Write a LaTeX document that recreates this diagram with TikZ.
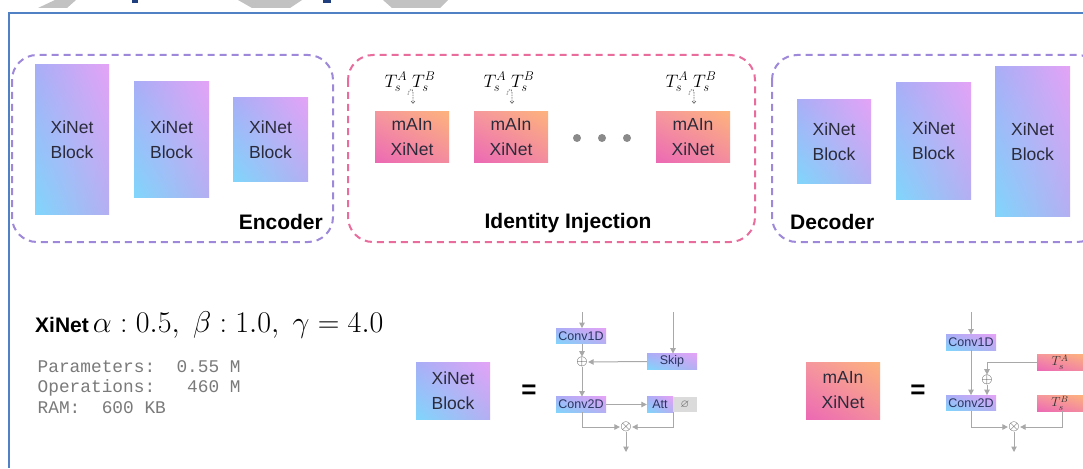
\RequirePackage{fix-cm}
\documentclass[tikz,border=0pt]{standalone}
\usepackage[no-math]{fontspec}
\setmainfont{Liberation Sans}
\setmonofont{Liberation Mono}
\usepackage{amssymb}
\usetikzlibrary{arrows.meta,calc,shadings}
\definecolor{bUL}{HTML}{A8AEF6}
\definecolor{bUR}{HTML}{E4A3F6}
\definecolor{bLL}{HTML}{80D6FC}
\definecolor{bLR}{HTML}{B4AEF2}
\definecolor{pUL}{HTML}{F5979E}
\definecolor{pUR}{HTML}{FDB27C}
\definecolor{pLL}{HTML}{EC69B4}
\definecolor{pLR}{HTML}{F38C9E}
\definecolor{txt}{HTML}{2B2B3B}
\definecolor{stxt}{HTML}{2A3560}
\definecolor{encC}{HTML}{9D88DA}
\definecolor{injC}{HTML}{E86C9C}
\definecolor{arrC}{HTML}{A8A8A8}
\definecolor{frameC}{HTML}{4F81C4}
\definecolor{hdrC}{HTML}{C2C2C2}
\definecolor{hdrB}{HTML}{1F3F7F}
\definecolor{monoC}{HTML}{7A7A7A}
\definecolor{dotC}{HTML}{8A8A8A}
\begin{document}
\begin{tikzpicture}[x=1pt,y=-1pt,
  xblock/.style={shade, upper left=bUL, upper right=bUR, lower left=bLL, lower right=bLR,
    inner sep=0, align=center, text=txt, font=\fontsize{17.5}{25}\selectfont},
  mblock/.style={shade, upper left=pUL, upper right=pUR, lower left=pLL, lower right=pLR,
    inner sep=0, align=center, text=txt, font=\fontsize{17.5}{25}\selectfont},
  sblock/.style={xblock, text=stxt, font=\fontsize{12.5}{12.5}\selectfont, minimum width=50, minimum height=15.5},
  smblock/.style={mblock, text=black!80, font=\fontsize{13}{13}\selectfont, minimum width=46, minimum height=16},
  grp/.style={line width=2, dash pattern=on 7pt off 5pt, rounded corners=25},
  flow/.style={draw=arrC, line width=1, -{Triangle[length=5.5pt,width=5.5pt]}},
  opnode/.style={inner sep=0.3, font=\fontsize{14.5}{14.5}\selectfont, text=black!80},
  hook/.style={draw=black!55, line width=0.8, dash pattern=on 1.5pt off 1pt, -{Straight Barb[length=2pt,width=3.5pt]}},
  grplabel/.style={font=\fontsize{21}{21}\selectfont\bfseries, inner sep=0},
  tlabel/.style={font=\fontsize{18}{18}\selectfont, inner sep=0},
  mono/.style={font=\fontsize{17.8}{20}\selectfont\ttfamily, text=monoC, inner sep=0, anchor=base west},
  eqsign/.style={font=\fontsize{26}{26}\selectfont\bfseries, inner sep=0}
]
\useasboundingbox (0,0) rectangle (1083,468);
\fill[white] (0,0) rectangle (1083,468);
% header remnants
\fill[hdrC] (55,0) -- (76,0) -- (67,8) -- (38,8) -- cycle;
\fill[hdrC] (238,0) -- (302,0) -- (290,8) -- (252,8) -- cycle;
\fill[hdrC] (383,0) -- (448,0) -- (440,8) -- (392,8) -- cycle;
\fill[hdrB] (132,0) rectangle (138,3);
\fill[hdrB] (323,0) rectangle (331,3);
% frame
\draw[frameC, line width=2] (9,468) -- (9,13) -- (1083,13);

% groups
\begin{scope}
\clip (0,0) rectangle (1083,468);
\draw[grp, draw=encC] (12,55) rectangle (333,242);
\draw[grp, draw=injC] (348,55) rectangle (755,242);
\draw[grp, draw=encC] (772,55) rectangle (1102,242);
\end{scope}

% encoder
\node[xblock, minimum width=74, minimum height=149] (e1) at (72,139.5) {XiNet\\Block};
\node[xblock, minimum width=75, minimum height=115] (e2) at (171.5,139.5) {XiNet\\Block};
\node[xblock, minimum width=75, minimum height=83] (e3) at (270.5,139.5) {XiNet\\Block};
\node[grplabel, anchor=base east] (enc) at (323,229) {Encoder};

% injection
\foreach \i/\x in {1/412,2/511,3/693}{
  \node[mblock, minimum width=74, minimum height=50] (m\i) at (\x,137) {mAIn\\XiNet};
  \node[tlabel] (t\i) at (\x-2,82) {$T_s^A\;T_s^B$};
  \coordinate (h\i a) at ($(m\i.north)+(-4,-17)$);
  \coordinate (h\i b) at ($(m\i.north)+(1,-8)$);
  \draw[hook] (h\i a) .. controls +(0,-5) and +(0,-6) .. ($(m\i.north)+(1,-19)$) -- (h\i b);
}
\foreach \i/\x in {1/577,2/602,3/627}{
  \fill[dotC] (\x,138) circle (4);
}
\node[grplabel, anchor=base] (inj) at (568,228) {Identity Injection};

% decoder
\node[xblock, minimum width=74, minimum height=83] (d1) at (834,141.5) {XiNet\\Block};
\node[xblock, minimum width=75, minimum height=116] (d2) at (933.5,141) {XiNet\\Block};
\node[xblock, minimum width=75, minimum height=149] (d3) at (1032.5,141.5) {XiNet\\Block};
\node[grplabel, anchor=base west] (dec) at (790,229.5) {Decoder};

% bottom left
\node[anchor=base west, inner sep=0] (title) at (35,332)
  {{\fontsize{21}{21}\selectfont\bfseries XiNet}\hspace{4pt}{\fontsize{30}{30}\selectfont$\alpha : 0.5,\ \beta : 1.0,\ \gamma = 4.0$}};
\node[mono] (par) at (37.5,372) {Parameters:~~0.55~M};
\node[mono] (ops) at (37.5,392.5) {Operations:~~~460~M};
\node[mono] (ram) at (37.5,413) {RAM:~~600~KB};

% XiNet block legend
\node[xblock, minimum width=74, minimum height=57] (lx) at (453,390.5) {XiNet\\Block};
\node[eqsign] (eq1) at (529,392) {=};
\node[sblock] (c1) at (581,336) {Conv1D};
\node[opnode] (p1) at (582,362) {$\oplus$};
\node[sblock] (sk) at (672,361.5) {Skip};
\node[sblock] (c2) at (581,404.5) {Conv2D};
\node[sblock, minimum width=26] (att) at (660,404.5) {Att};
\node[fill=black!14, minimum width=24, minimum height=15.5, inner sep=0, text=black!65,
  font=\fontsize{11}{11}\selectfont] (sg) at (685,404.5) {$\varnothing$};
\node[opnode] (x1) at (626,427) {$\otimes$};
\coordinate (in1) at (582,312);
\coordinate (in2) at (673,312);
\coordinate (out1) at (626,452);
\draw[flow] (in1) -- (c1.north -| in1);
\draw[flow] (c1.south -| p1) -- (p1);
\draw[flow] (in2) -- (in2 |- sk.north);
\draw[flow] (sk.west) -- (p1.east);
\draw[flow] (p1) -- (p1 |- c2.north);
\draw[flow] (c2.east) -- (att.west);
\draw[flow] (c2.south -| p1) |- (x1.west);
\draw[flow] (att.south east) |- (x1.east);
\draw[flow] (x1) -- (out1);

% mAIn legend
\node[mblock, minimum width=74, minimum height=57] (lm) at (843,390.5) {mAIn\\XiNet};
\node[eqsign] (eq2) at (918,392) {=};
\node[sblock] (k1) at (971,342.5) {Conv1D};
\node[sblock] (k2) at (971,403) {Conv2D};
\node[smblock] (ta) at (1060,362) {$T_s^A$};
\node[smblock] (tb) at (1060,403) {$T_s^B$};
\node[opnode] (p2) at (987,380) {$\oplus$};
\node[opnode] (x2) at (1014,427) {$\otimes$};
\coordinate (in3) at (971,312);
\coordinate (out2) at (1014,452);
\draw[flow] (in3) -- (k1.north);
\draw[flow] (k1.south) -- (k2.north);
\draw[flow] (ta.west) -| (p2.north);
\draw[flow] (p2.south) -- (p2.south |- k2.north);
\draw[flow] ([xshift=2]tb.south) |- (x2.east);
\draw[flow] (k2.south) |- (x2.west);
\draw[flow] (x2) -- (out2);
\end{tikzpicture}
\end{document}
